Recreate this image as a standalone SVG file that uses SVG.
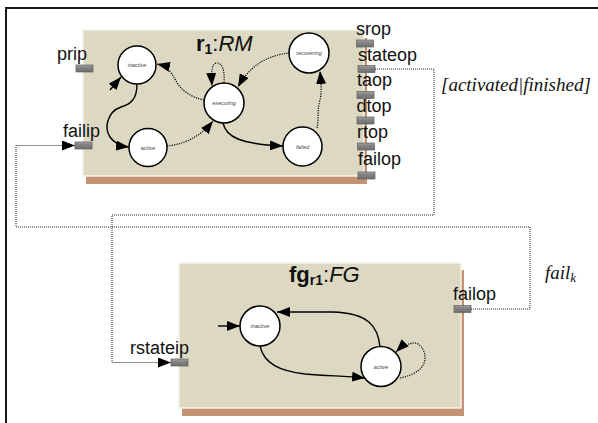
<svg xmlns="http://www.w3.org/2000/svg" width="598" height="423" viewBox="0 0 598 423">
  <style>
    .frame { fill: none; stroke: #1a1a1a; stroke-width: 2; }
    .body { fill: #dcd8c2; stroke: #f4f2ea; stroke-width: 1.5; }
    .shadow { fill: #c39373; }
    .port { fill: url(#portFill); stroke: #5e5e5e; stroke-width: 0.7; }
    .plabel { font-family: "Liberation Sans", Arial, sans-serif; font-size: 18px; fill: #111; }
    .title { font-family: "Liberation Sans", Arial, sans-serif; font-size: 22px; fill: #111; }
    .state { fill: #fff; stroke: #000; stroke-width: 1.5; }
    .slabel { font-family: "Liberation Sans", Arial, sans-serif; font-size: 5.5px; font-style: italic; fill: #444; text-anchor: middle; }
    .solid { fill: none; stroke: #000; stroke-width: 1.4; }
    .dot { fill: none; stroke: #000; stroke-width: 1.2; stroke-dasharray: 1.2 1.2; }
    .link { fill: none; stroke: #222; stroke-width: 1; stroke-dasharray: 1 1; }
    .note { font-family: "Liberation Serif", "Times New Roman", serif; font-style: italic; font-size: 19px; fill: #111; }
  </style>
  <defs>
    <linearGradient id="portFill" x1="0" y1="0" x2="0" y2="1">
      <stop offset="0" stop-color="#a5a5a5"/>
      <stop offset="0.35" stop-color="#858585"/>
      <stop offset="1" stop-color="#6e6e6e"/>
    </linearGradient>
    <marker id="arrow" markerUnits="userSpaceOnUse" markerWidth="13" markerHeight="10" refX="13" refY="5" orient="auto">
      <path d="M0,0 L13,5 L0,10 z" fill="#000" stroke="none"/>
    </marker>
  </defs>

  <!-- enclosing frame (left and top edges) -->
  <path class="frame" d="M6,423 L6,8 L598,8"/>

  <!-- r1 : RM actor -->
  <g id="r1">
    <rect class="shadow" x="86" y="38" width="281" height="146"/>
    <rect class="body" x="83" y="30" width="281" height="146"/>
    <text class="title" x="196" y="51"><tspan font-weight="bold">r</tspan><tspan font-weight="bold" font-size="14" dy="3">1</tspan><tspan dy="-3">:</tspan><tspan font-style="italic">RM</tspan></text>

    <g id="r1-states">
      <circle class="state" cx="137" cy="65" r="19"/>
      <text class="slabel" x="137" y="67">inactive</text>
      <circle class="state" cx="148" cy="147.5" r="19"/>
      <text class="slabel" x="148" y="149.5">active</text>
      <circle class="state" cx="224" cy="103" r="20"/>
      <text class="slabel" x="224" y="105">executing</text>
      <circle class="state" cx="309" cy="53" r="20"/>
      <text class="slabel" x="309" y="55">recovering</text>
      <circle class="state" cx="302.5" cy="146.5" r="19.5"/>
      <text class="slabel" x="302.5" y="148.5">failed</text>
    </g>

    <g id="r1-transitions">
      <path class="solid" d="M110,90 L121,77" marker-end="url(#arrow)"/>
      <path class="solid" d="M137,84 C137,99 131,104 121,107 C107,112 104,128 110,137 C114,143 120,146 129,147" marker-end="url(#arrow)"/>
      <path class="dot" d="M167,146 C185,144 200,137 213,121" marker-end="url(#arrow)"/>
      <path class="dot" d="M204,100 C190,97 181,90 176,81 C171,71 166,66 157,64" marker-end="url(#arrow)"/>
      <path class="dot" d="M224,83 C225,70 222,63 217,63 C212,63 211,70 212,86" marker-end="url(#arrow)"/>
      <path class="dot" d="M290,53 C268,55 250,65 238,87" marker-end="url(#arrow)"/>
      <path class="solid" d="M223,123 C226,137 240,144 283,146" marker-end="url(#arrow)"/>
      <path class="dot" d="M317,128 C319,118 317,110 320,100 C322,92 321,82 320,71" marker-end="url(#arrow)"/>
    </g>

    <g id="r1-ports">
      <rect class="port" x="76" y="65" width="17" height="7"/>
      <text class="plabel" x="57" y="60">prip</text>
      <rect class="port" x="75" y="142" width="17" height="7"/>
      <text class="plabel" x="63" y="137">failip</text>
      <rect class="port" x="356.5" y="40" width="17" height="7"/>
      <text class="plabel" x="356" y="35">srop</text>
      <rect class="port" x="358" y="65.5" width="17" height="7"/>
      <text class="plabel" x="358" y="60.5">stateop</text>
      <rect class="port" x="357" y="91.5" width="17" height="7"/>
      <text class="plabel" x="357" y="86">taop</text>
      <rect class="port" x="357" y="117" width="17" height="7"/>
      <text class="plabel" x="356.5" y="111.5">dtop</text>
      <rect class="port" x="357.5" y="143" width="17" height="7"/>
      <text class="plabel" x="357" y="138">rtop</text>
      <rect class="port" x="358" y="172" width="17" height="7"/>
      <text class="plabel" x="358" y="165">failop</text>
    </g>
  </g>

  <!-- fg_r1 : FG actor -->
  <g id="fgr1">
    <rect class="shadow" x="182" y="270" width="282" height="146"/>
    <rect class="body" x="179" y="263" width="282" height="145"/>
    <text class="title" x="289" y="282"><tspan font-weight="bold">fg</tspan><tspan font-weight="bold" font-size="14" dy="3">r1</tspan><tspan dy="-3">:</tspan><tspan font-style="italic">FG</tspan></text>

    <g id="fgr1-states">
      <circle class="state" cx="260" cy="326" r="20"/>
      <text class="slabel" x="260" y="328">inactive</text>
      <circle class="state" cx="381" cy="366.5" r="20"/>
      <text class="slabel" x="381" y="368.5">active</text>
    </g>

    <g id="fgr1-transitions">
      <path class="solid" d="M218,326 L240,326" marker-end="url(#arrow)"/>
      <path class="solid" d="M380,347 C378,326 368,313 333,312 L277,312" marker-end="url(#arrow)"/>
      <path class="solid" d="M260,346 C264,364 280,371 305,374 C330,376 345,376 365,378" marker-end="url(#arrow)"/>
      <path class="dot" d="M400,378 C415,375 425,368 425,358 C425,348 418,342 413,343 C408,344 402,346 396,352" marker-end="url(#arrow)"/>
    </g>

    <g id="fgr1-ports">
      <rect class="port" x="171" y="359" width="17" height="7"/>
      <text class="plabel" x="130" y="354">rstateip</text>
      <rect class="port" x="454" y="305.5" width="17" height="7"/>
      <text class="plabel" x="453" y="300">failop</text>
    </g>
  </g>

  <!-- channels between the actors -->
  <g id="connectors">
    <path class="link" d="M375,69 L434,69 L434,215 L112,215 L112,362.5 L171,362.5" marker-end="url(#arrow)"/>
    <path class="link" d="M471,309 L530,309 L530,227 L16,227 L16,145.5 L75,145.5" marker-end="url(#arrow)"/>
    <text class="note" x="441" y="91">[activated|finished]</text>
    <text class="note" x="545" y="279">fail<tspan font-size="13" dy="3">k</tspan></text>
  </g>
</svg>
